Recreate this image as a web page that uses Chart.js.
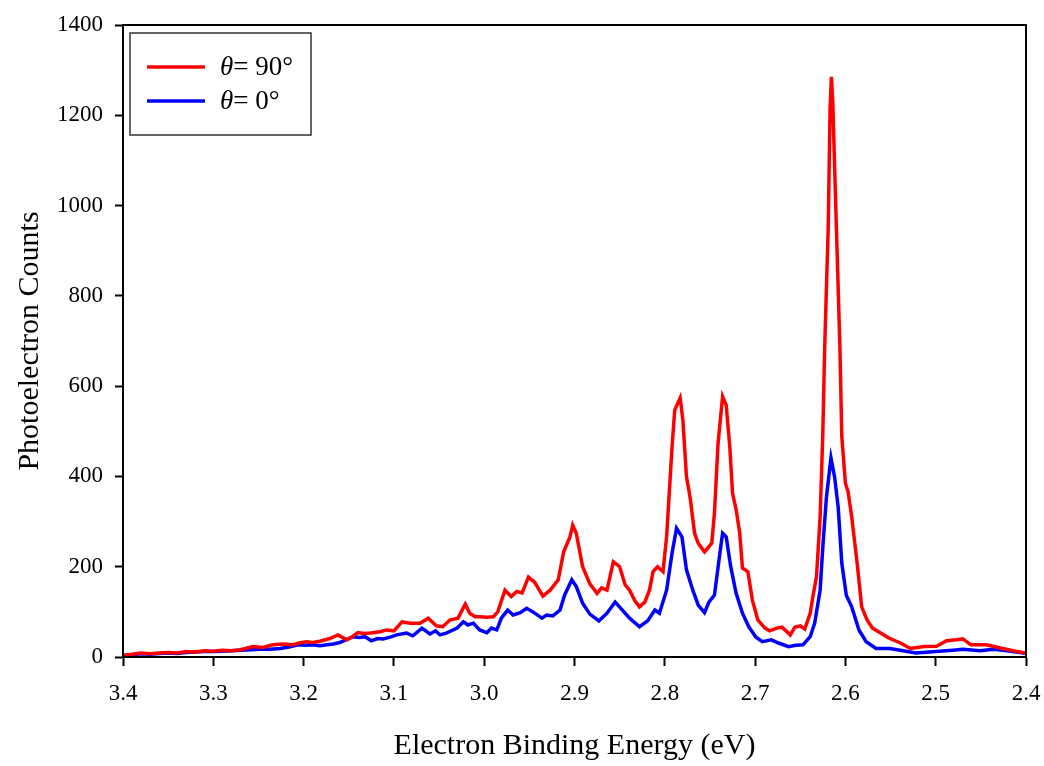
<!DOCTYPE html>
<html>
<head>
<meta charset="utf-8">
<script src="https://cdn.jsdelivr.net/npm/chart.js@4"></script>
<style>
  html, body { margin: 0; padding: 0; background: #fff; }
  #wrap { width: 1044px; height: 766px; }
</style>
</head>
<body>
<div id="wrap"><canvas id="c" width="1044" height="766"></canvas></div>
<script>
// Photoelectron spectrum at two laser polarization angles

const seriesLabels = ['= 90°', '= 0°'];
const seriesColors = ['#ff0000', '#0000ff'];

// theta = 90 deg: binding energy (eV) and counts
const energy90 = [
  3.400, 3.390, 3.380, 3.370, 3.360, 3.350, 3.340, 3.330, 3.320, 3.310,
  3.300, 3.290, 3.280, 3.270, 3.256, 3.245, 3.234, 3.223, 3.212, 3.205,
  3.197, 3.190, 3.182, 3.171, 3.162, 3.152, 3.146, 3.140, 3.133, 3.126,
  3.115, 3.108, 3.100, 3.091, 3.082, 3.071, 3.062, 3.053, 3.046, 3.038,
  3.029, 3.021, 3.016, 3.010, 3.005, 2.997, 2.990, 2.985, 2.977, 2.970,
  2.964, 2.958, 2.951, 2.944, 2.935, 2.927, 2.918, 2.912, 2.905, 2.902,
  2.898, 2.891, 2.883, 2.875, 2.870, 2.864, 2.857, 2.850, 2.844, 2.839,
  2.833, 2.828, 2.822, 2.817, 2.813, 2.808, 2.802, 2.798, 2.792, 2.789,
  2.783, 2.780, 2.776, 2.772, 2.767, 2.763, 2.756, 2.748, 2.745, 2.741,
  2.736, 2.732, 2.728, 2.725, 2.721, 2.717, 2.714, 2.708, 2.703, 2.697,
  2.689, 2.684, 2.676, 2.670, 2.667, 2.661, 2.656, 2.650, 2.645, 2.639,
  2.636, 2.632, 2.628, 2.625, 2.623, 2.619, 2.617, 2.6155, 2.614, 2.610,
  2.606, 2.604, 2.600, 2.597, 2.593, 2.587, 2.582, 2.576, 2.570, 2.561,
  2.552, 2.539, 2.528, 2.513, 2.499, 2.488, 2.477, 2.470, 2.461, 2.444,
  2.426, 2.410, 2.400
];
const counts90 = [
  4, 6, 9, 7, 9, 10, 9, 12, 11, 14,
  13, 15, 14, 16, 23, 21, 27, 29, 27, 31,
  34, 32, 35, 41, 49, 38, 45, 54, 52, 53,
  56, 60, 58, 78, 75, 75, 86, 69, 67, 82,
  86, 117, 97, 89, 89, 88, 89, 100, 148, 134,
  145, 142, 177, 165, 135, 148, 171, 233, 266, 292,
  274, 200, 162, 141, 153, 148, 211, 200, 160, 148,
  124, 111, 122, 148, 189, 200, 189, 266, 465, 547,
  574, 525, 399, 354, 274, 252, 233, 252, 319, 474,
  577, 558, 465, 363, 326, 274, 197, 189, 126, 82,
  64, 58, 64, 66, 60, 49, 66, 69, 62, 97,
  134, 178, 310, 496, 680, 953, 1212, 1285, 1230, 953,
  680, 488, 385, 366, 310, 208, 111, 82, 64, 53,
  42, 31, 19, 23, 24, 36, 38, 40, 27, 27,
  19, 12, 9
];

// theta = 0 deg: binding energy (eV) and counts
const energy0 = [
  3.400, 3.390, 3.380, 3.370, 3.360, 3.350, 3.340, 3.330, 3.320, 3.310,
  3.300, 3.290, 3.280, 3.270, 3.258, 3.248, 3.237, 3.226, 3.216, 3.206,
  3.198, 3.190, 3.182, 3.174, 3.167, 3.160, 3.152, 3.145, 3.138, 3.132,
  3.125, 3.118, 3.112, 3.104, 3.097, 3.086, 3.079, 3.069, 3.060, 3.054,
  3.049, 3.042, 3.030, 3.023, 3.018, 3.012, 3.005, 2.997, 2.992, 2.986,
  2.981, 2.974, 2.968, 2.960, 2.953, 2.946, 2.936, 2.931, 2.924, 2.916,
  2.911, 2.903, 2.898, 2.891, 2.883, 2.873, 2.864, 2.855, 2.847, 2.839,
  2.828, 2.819, 2.811, 2.806, 2.798, 2.792, 2.787, 2.781, 2.776, 2.769,
  2.763, 2.756, 2.751, 2.745, 2.740, 2.736, 2.732, 2.727, 2.721, 2.714,
  2.707, 2.699, 2.692, 2.682, 2.674, 2.663, 2.655, 2.647, 2.639, 2.634,
  2.628, 2.625, 2.621, 2.616, 2.612, 2.608, 2.604, 2.599, 2.593, 2.585,
  2.577, 2.566, 2.551, 2.536, 2.522, 2.500, 2.481, 2.470, 2.451, 2.436,
  2.421, 2.401
];
const counts0 = [
  3, 5, 7, 6, 8, 9, 8, 10, 11, 12,
  12, 13, 14, 15, 16, 17, 17, 19, 22, 27,
  26, 27, 25, 27, 29, 32, 39, 45, 43, 45,
  36, 41, 40, 44, 49, 53, 47, 64, 51, 58,
  49, 53, 64, 78, 71, 75, 60, 54, 64, 60,
  86, 104, 93, 98, 108, 100, 86, 93, 91, 104,
  137, 171, 156, 119, 95, 80, 97, 122, 104, 86,
  67, 80, 104, 97, 148, 230, 285, 266, 193, 148,
  115, 98, 122, 137, 215, 274, 266, 200, 141, 97,
  67, 44, 34, 38, 31, 23, 26, 27, 45, 75,
  148, 244, 354, 441, 399, 332, 208, 137, 111, 60,
  34, 19, 19, 14, 9, 12, 15, 17, 14, 17,
  14, 8
];

const xTickMin = 2.4, xTickMax = 3.4, xTickStep = 0.1;
const yTickMin = 0, yTickMax = 1400, yTickStep = 200;

const FONT = '"Liberation Serif", "Times New Roman", serif';

function toPoints(xs, ys) {
  return xs.map((x, i) => ({ x: x, y: ys[i] }));
}

// Plot frame on all four sides
const framePlugin = {
  id: 'frame',
  afterDraw(chart) {
    const { ctx, chartArea: a } = chart;
    ctx.save();
    ctx.strokeStyle = '#000';
    ctx.lineWidth = 2;
    ctx.strokeRect(a.left, a.top, a.right - a.left, a.bottom - a.top);
    ctx.restore();
  }
};

// Boxed legend with an italic theta before each label
const thetaLegend = {
  id: 'thetaLegend',
  afterDraw(chart) {
    const { ctx } = chart;
    const box = { x: 130, y: 33, w: 181, h: 102 };
    ctx.save();
    ctx.fillStyle = '#fff';
    ctx.fillRect(box.x, box.y, box.w, box.h);
    ctx.strokeStyle = '#333';
    ctx.lineWidth = 1.5;
    ctx.strokeRect(box.x, box.y, box.w, box.h);
    chart.data.datasets.forEach((ds, i) => {
      const yy = 67 + i * 34;
      ctx.strokeStyle = ds.borderColor;
      ctx.lineWidth = 3.5;
      ctx.beginPath();
      ctx.moveTo(147, yy);
      ctx.lineTo(205, yy);
      ctx.stroke();
      ctx.fillStyle = '#000';
      ctx.textBaseline = 'middle';
      ctx.font = 'italic 27px ' + FONT;
      ctx.fillText('\u03B8', 220, yy + 1);
      const w = ctx.measureText('\u03B8').width;
      ctx.font = '27px ' + FONT;
      ctx.fillText(ds.label, 220 + w, yy + 1);
    });
    ctx.restore();
  }
};

new Chart(document.getElementById('c'), {
  type: 'line',
  data: {
    datasets: [
      {
        label: seriesLabels[0],
        data: toPoints(energy90, counts90),
        borderColor: seriesColors[0],
        borderWidth: 3.5,
        pointRadius: 0,
        tension: 0,
        fill: false
      },
      {
        label: seriesLabels[1],
        data: toPoints(energy0, counts0),
        borderColor: seriesColors[1],
        borderWidth: 3.5,
        pointRadius: 0,
        tension: 0,
        fill: false
      }
    ]
  },
  options: {
    responsive: false,
    animation: false,
    layout: { padding: { left: 0, right: 18, top: 25, bottom: 0 } },
    plugins: {
      legend: { display: false },
      tooltip: { enabled: false }
    },
    scales: {
      x: {
        type: 'linear',
        reverse: true,
        min: xTickMin,
        max: xTickMax,
        afterFit(s) { s.height = 109; s.paddingLeft = 0; s.paddingRight = 0; },
        ticks: {
          stepSize: xTickStep,
          color: '#000',
          padding: 14,
          maxRotation: 0,
          font: { family: FONT, size: 23 },
          callback: v => Number(v).toFixed(1)
        },
        grid: {
          drawOnChartArea: false,
          drawTicks: true,
          tickLength: 9,
          tickWidth: 2,
          tickColor: '#000'
        },
        border: { display: true, color: '#000', width: 2 },
        title: {
          display: true,
          text: 'Electron Binding Energy (eV)',
          color: '#000',
          font: { family: FONT, size: 30 },
          padding: { top: 0, bottom: 2 }
        }
      },
      y: {
        type: 'linear',
        min: yTickMin,
        max: yTickMax,
        afterFit(s) { s.width = 123; s.paddingTop = 0; s.paddingBottom = 0; },
        ticks: {
          stepSize: yTickStep,
          color: '#000',
          padding: 12,
          font: { family: FONT, size: 23 },
          callback: v => String(v)
        },
        grid: {
          drawOnChartArea: false,
          drawTicks: true,
          tickLength: 8,
          tickWidth: 2,
          tickColor: '#000'
        },
        border: { display: true, color: '#000', width: 2 },
        title: {
          display: true,
          text: 'Photoelectron Counts',
          color: '#000',
          font: { family: FONT, size: 30 },
          padding: { top: 12, bottom: 0 }
        }
      }
    }
  },
  plugins: [framePlugin, thetaLegend]
});
</script>
</body>
</html>
